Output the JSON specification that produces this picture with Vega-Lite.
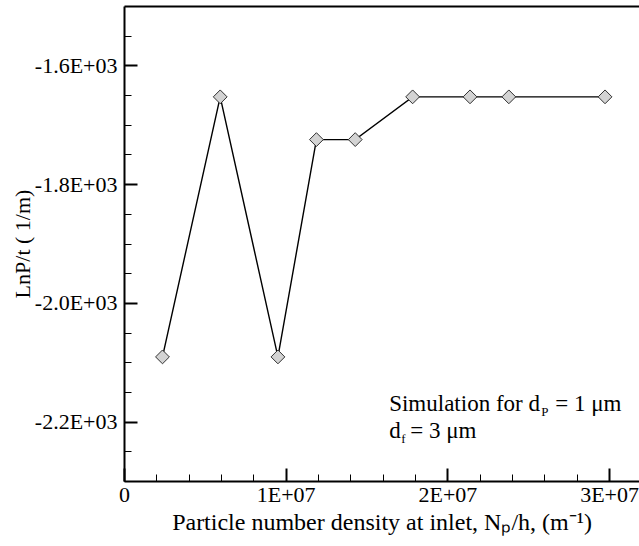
{
  "$schema": "https://vega.github.io/schema/vega-lite/v6.json",
  "width": 515,
  "height": 475,
  "autosize": {"type": "none"},
  "padding": {"left": 124, "top": 6, "right": 0, "bottom": 65},
  "background": "white",
  "config": {"view": {"stroke": null}, "font": "Liberation Serif, Times New Roman, serif"},
  "datasets": {
    "sim": [
      {"density": 2380000, "lnpt": -2091},
      {"density": 5950000, "lnpt": -1653},
      {"density": 9520000, "lnpt": -2091},
      {"density": 11900000, "lnpt": -1725},
      {"density": 14300000, "lnpt": -1725},
      {"density": 17850000, "lnpt": -1653},
      {"density": 21400000, "lnpt": -1653},
      {"density": 23800000, "lnpt": -1653},
      {"density": 29750000, "lnpt": -1653}
    ]
  },
  "data": {"name": "sim"},
  "resolve": {"axis": {"x": "independent", "y": "independent"}},
  "layer": [
    {
      "mark": {"type": "line", "strokeOpacity": 0},
      "encoding": {
        "x": {"field": "density", "type": "quantitative",
              "scale": {"domain": [0, 31850000], "nice": false, "zero": false},
              "axis": {"orient": "top", "title": null, "labels": false, "ticks": false, "grid": false,
                       "domain": true, "domainColor": "black", "domainWidth": 2}},
        "y": {"field": "lnpt", "type": "quantitative",
              "scale": {"domain": [-2300, -1500], "nice": false, "zero": false},
              "axis": null}
      }
    },
    {
      "mark": {"type": "line", "strokeOpacity": 0},
      "encoding": {
        "x": {"field": "density", "type": "quantitative",
              "scale": {"domain": [0, 31850000], "nice": false, "zero": false},
              "axis": {"orient": "bottom", "title": null, "labels": false, "grid": false, "domain": false,
                       "ticks": true, "tickSize": -7, "tickWidth": 1, "tickColor": "black",
                       "values": [0, 2000000, 4000000, 6000000, 8000000, 10000000, 12000000, 14000000, 16000000, 18000000, 20000000, 22000000, 24000000, 26000000, 28000000, 30000000]}},
        "y": {"field": "lnpt", "type": "quantitative",
              "scale": {"domain": [-2300, -1500], "nice": false, "zero": false},
              "axis": {"orient": "left", "title": null, "labels": false, "grid": false, "domain": false,
                       "ticks": true, "tickSize": -7, "tickWidth": 1, "tickColor": "black",
                       "values": [-2250, -2200, -2150, -2100, -2050, -2000, -1950, -1900, -1850, -1800, -1750, -1700, -1650, -1600, -1550]}}
      }
    },
    {
      "mark": {"type": "line", "color": "black", "strokeWidth": 1.4},
      "encoding": {
        "x": {"field": "density", "type": "quantitative",
              "scale": {"domain": [0, 31850000], "nice": false, "zero": false},
              "axis": {"orient": "bottom", "grid": false,
                       "values": [0, 10000000, 20000000, 30000000],
                       "labelExpr": "datum.value == 0 ? '0' : (datum.value / 10000000) + 'E+07'",
                       "domain": true, "domainColor": "black", "domainWidth": 2,
                       "ticks": true, "tickSize": -13, "tickWidth": 2, "tickColor": "black",
                       "labelFont": "Liberation Serif", "labelFontSize": 22, "labelColor": "black",
                       "labelPadding": 16, "labelFlush": false, "labelOverlap": false,
                       "title": "Particle number density at inlet, Nₚ/h, (m⁻¹)",
                       "titleFont": "Liberation Serif", "titleFontSize": 24, "titleFontWeight": "normal",
                       "titleColor": "black", "titleY": 48, "titleBaseline": "alphabetic"}},
        "y": {"field": "lnpt", "type": "quantitative",
              "scale": {"domain": [-2300, -1500], "nice": false, "zero": false},
              "axis": {"orient": "left", "grid": false,
                       "values": [-2200, -2000, -1800, -1600],
                       "labelExpr": "'-' + format(-datum.value / 1000, '.1f') + 'E+03'",
                       "domain": true, "domainColor": "black", "domainWidth": 2,
                       "ticks": true, "tickSize": -13, "tickWidth": 2, "tickColor": "black",
                       "labelFont": "Liberation Serif", "labelFontSize": 22, "labelColor": "black",
                       "labelPadding": 20, "labelFlush": false, "labelOverlap": false,
                       "title": "LnP/t ( 1/m)",
                       "titleFont": "Liberation Serif", "titleFontSize": 22, "titleFontWeight": "normal",
                       "titleColor": "black", "titleX": -95, "titleBaseline": "alphabetic"}}
      }
    },
    {
      "mark": {"type": "point", "shape": "diamond", "filled": true, "fill": "#d3d3d3", "stroke": "#303030",
               "strokeWidth": 1, "size": 190, "opacity": 1},
      "encoding": {
        "x": {"field": "density", "type": "quantitative",
              "scale": {"domain": [0, 31850000], "nice": false, "zero": false}, "axis": null},
        "y": {"field": "lnpt", "type": "quantitative",
              "scale": {"domain": [-2300, -1500], "nice": false, "zero": false}, "axis": null}
      }
    },
    {
      "data": {"values": [{}]},
      "mark": {"type": "text", "text": "Simulation for d", "fontSize": 23, "align": "left", "baseline": "alphabetic", "color": "black"},
      "encoding": {
        "x": {"datum": 16400000, "type": "quantitative", "axis": null},
        "y": {"datum": -2182, "type": "quantitative", "axis": null}
      }
    },
    {
      "data": {"values": [{}]},
      "mark": {"type": "text", "text": "P", "fontSize": 13, "align": "left", "baseline": "alphabetic", "color": "black", "dx": 152, "dy": 5},
      "encoding": {
        "x": {"datum": 16400000, "type": "quantitative", "axis": null},
        "y": {"datum": -2182, "type": "quantitative", "axis": null}
      }
    },
    {
      "data": {"values": [{}]},
      "mark": {"type": "text", "text": "= 1 μm", "fontSize": 23, "align": "left", "baseline": "alphabetic", "color": "black", "dx": 166},
      "encoding": {
        "x": {"datum": 16400000, "type": "quantitative", "axis": null},
        "y": {"datum": -2182, "type": "quantitative", "axis": null}
      }
    },
    {
      "data": {"values": [{}]},
      "mark": {"type": "text", "text": "d", "fontSize": 23, "align": "left", "baseline": "alphabetic", "color": "black"},
      "encoding": {
        "x": {"datum": 16400000, "type": "quantitative", "axis": null},
        "y": {"datum": -2228, "type": "quantitative", "axis": null}
      }
    },
    {
      "data": {"values": [{}]},
      "mark": {"type": "text", "text": "f", "fontSize": 13, "align": "left", "baseline": "alphabetic", "color": "black", "dx": 12, "dy": 5},
      "encoding": {
        "x": {"datum": 16400000, "type": "quantitative", "axis": null},
        "y": {"datum": -2228, "type": "quantitative", "axis": null}
      }
    },
    {
      "data": {"values": [{}]},
      "mark": {"type": "text", "text": "= 3 μm", "fontSize": 23, "align": "left", "baseline": "alphabetic", "color": "black", "dx": 21},
      "encoding": {
        "x": {"datum": 16400000, "type": "quantitative", "axis": null},
        "y": {"datum": -2228, "type": "quantitative", "axis": null}
      }
    }
  ]
}
